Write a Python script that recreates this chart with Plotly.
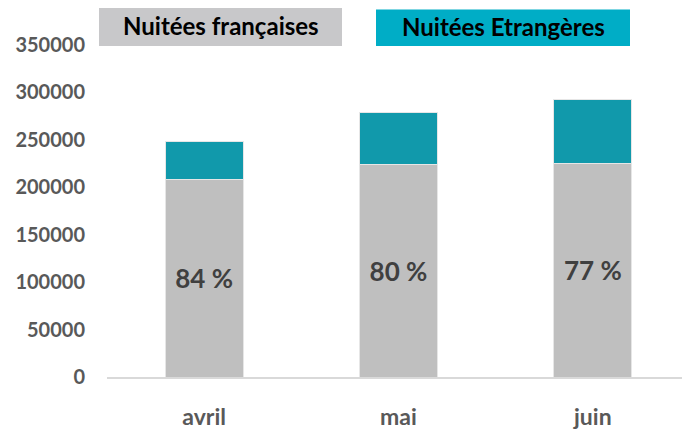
"""Nuitées françaises / étrangères par mois - barres empilées."""

import plotly.graph_objects as go

months = ["avril", "mai", "juin"]
nuitees_francaises = [207800, 223800, 225100]
nuitees_etrangeres = [40200, 54900, 67200]
y_ticks = [0, 50000, 100000, 150000, 200000, 250000, 300000, 350000]

GREY_BAR = "#BFBFBF"
TEAL_BAR = "#1199AB"
GREY_KEY = "#C8C8CA"
TEAL_KEY = "#00ADC6"
FONT = "Lato"

# share of french nights, shown inside the grey bars
shares = [
    f"{round(100 * f / (f + e))} %"
    for f, e in zip(nuitees_francaises, nuitees_etrangeres)
]

# the page body has an 8px margin, so the figure is drawn 8px smaller
OFF = 8
W, H = 690 - OFF, 430 - OFF
L, R, T, B = 107 - OFF, 0, 45 - OFF, 430 - 380.5


def px_x(px):
    # window pixel -> paper x
    return (px - OFF - L) / (W - L - R)


def px_y(py):
    # window pixel -> paper y
    return (H - B - (py - OFF)) / (H - B - T)


fig = go.Figure()
fig.add_trace(go.Bar(
    x=months, y=nuitees_francaises, name="Nuitées françaises",
    marker=dict(color=GREY_BAR, line=dict(color="#E6E6E6", width=1)),
    text=shares, textposition="inside", insidetextanchor="middle",
    textfont=dict(family=FONT, size=26, color="#404040", weight="bold"),
))
fig.add_trace(go.Bar(
    x=months, y=nuitees_etrangeres, name="Nuitées Etrangères",
    marker=dict(color=TEAL_BAR, line=dict(color="#E6E6E6", width=1)),
))

# legend keys drawn as coloured boxes
keys = [
    ("Nuitées françaises", GREY_KEY, 99, 342, 6, 46),
    ("Nuitées Etrangères", TEAL_KEY, 376, 630, 9, 46),
]
for label, color, x0, x1, y0, y1 in keys:
    fig.add_shape(
        type="rect", xref="paper", yref="paper",
        x0=px_x(x0), x1=px_x(x1), y0=px_y(y1), y1=px_y(y0),
        fillcolor=color, line=dict(width=0), layer="below",
    )
    fig.add_annotation(
        xref="paper", yref="paper",
        x=px_x((x0 + x1) / 2), y=px_y((y0 + y1) / 2 - 1),
        text=label, showarrow=False,
        font=dict(family=FONT, size=24, color="#000000", weight="bold"),
        xanchor="center", yanchor="middle",
    )

fig.update_layout(
    barmode="stack",
    bargap=0.6,
    width=W, height=H,
    margin=dict(l=L, r=R, t=T, b=B),
    paper_bgcolor="white",
    plot_bgcolor="white",
    showlegend=False,
    font=dict(family=FONT, color="#595959"),
)
fig.update_xaxes(
    showgrid=False, showline=True, linecolor="#D9D9D9", linewidth=2,
    ticks="", ticklabelstandoff=18,
    tickfont=dict(family=FONT, size=23, color="#595959", weight="bold"),
)
fig.update_yaxes(
    range=[0, 350000], tickvals=y_ticks, showgrid=False, zeroline=False,
    ticks="", ticklabelstandoff=21, tickformat="d",
    tickfont=dict(family=FONT, size=20, color="#595959", weight="bold"),
)

fig.write_html("out.html")
